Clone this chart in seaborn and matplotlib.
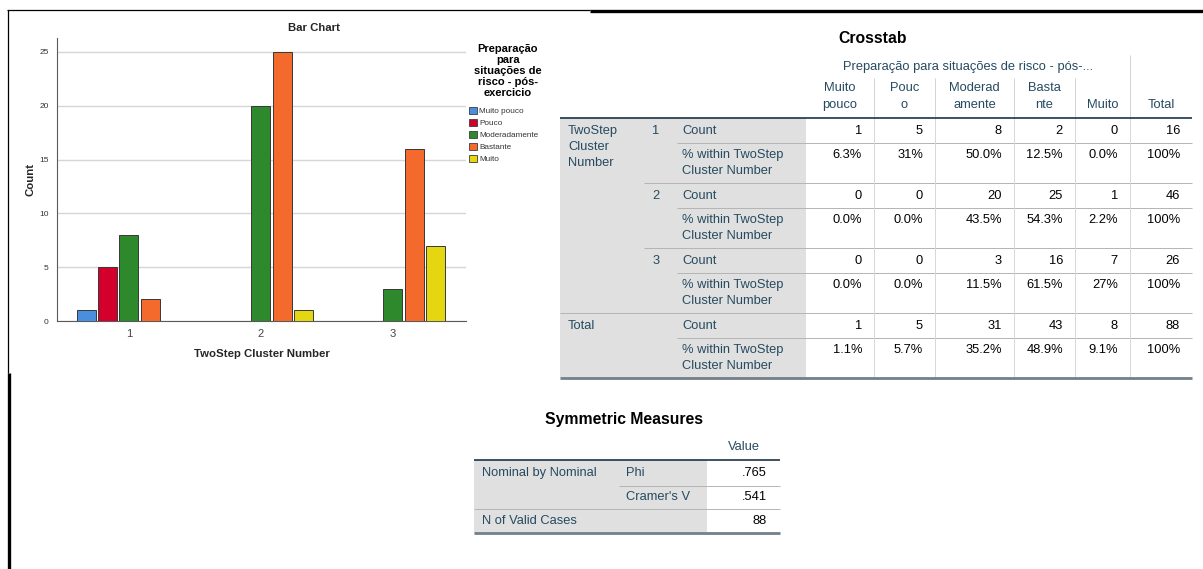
import numpy as np
import pandas as pd
import matplotlib
matplotlib.use("Agg")
import matplotlib.pyplot as plt
import seaborn as sns
from matplotlib.patches import Rectangle, Patch

# ---------------------------------------------------------------- data
clusters = ["1", "2", "3"]
levels = ["Muito pouco", "Pouco", "Moderadamente", "Bastante", "Muito"]
muito_pouco = [1, 0, 0]
pouco = [5, 0, 0]
moderadamente = [8, 20, 3]
bastante = [2, 25, 16]
muito = [0, 1, 7]

pct_cluster1 = ["6.3%", "31%", "50.0%", "12.5%", "0.0%", "100%"]
pct_cluster2 = ["0.0%", "0.0%", "43.5%", "54.3%", "2.2%", "100%"]
pct_cluster3 = ["0.0%", "0.0%", "11.5%", "61.5%", "27%", "100%"]
pct_total = ["1.1%", "5.7%", "35.2%", "48.9%", "9.1%", "100%"]

col_headers = [["Muito", "pouco"], ["Pouc", "o"], ["Moderad", "amente"],
               ["Basta", "nte"], ["Muito"], ["Total"]]

sym_rows = [("Nominal by Nominal", "Phi", ".765"),
            ("", "Cramer's V", ".541")]

y_ticks = [0, 5, 10, 15, 20, 25]

palette = {"Muito pouco": "#4a8fdd", "Pouco": "#d3002c",
           "Moderadamente": "#2d892b", "Bastante": "#f36a2c",
           "Muito": "#e4d712"}

# ---------------------------------------------------------------- style
sns.set_style("white")
plt.rcParams["font.family"] = ["Liberation Sans", "DejaVu Sans"]

W, H = 1203, 569
fig = plt.figure(figsize=(W / 100, H / 100), dpi=100)
fig.patch.set_facecolor("white")

# full-figure layer in pixel units for frames and tables
ov = fig.add_axes([0, 0, 1, 1], zorder=0)
ov.set_xlim(0, W)
ov.set_ylim(H, 0)
ov.axis("off")
ov.patch.set_alpha(0)

LBL = "#264a60"
VAL = "#010205"
FS = 9.3


def hline(y, x0, x1, color, lw):
    ov.plot([x0, x1], [y, y], color=color, lw=lw, solid_capstyle="butt")


def vline(x, y0, y1, color, lw):
    ov.plot([x, x], [y0, y1], color=color, lw=lw, solid_capstyle="butt")


def txt(x, y, s, color=VAL, ha="left", size=FS, weight="normal"):
    ov.text(x, y, s, color=color, ha=ha, va="center", fontsize=size,
            fontweight=weight)


# outer frame
hline(10, 7, 590, "black", 0.9)
hline(10.5, 590, W, "black", 2.4)
vline(8, 10, 373, "black", 0.9)
vline(9, 373, H, "black", 2.4)

# ---------------------------------------------------------------- bar chart
series = [muito_pouco, pouco, moderadamente, bastante, muito]
df = pd.DataFrame({
    "cluster": [c for s in series for c in clusters],
    "level": [lv for lv, s in zip(levels, series) for _ in s],
    "count": [v for s in series for v in s],
})

ax = fig.add_axes([57 / W, 1 - 321 / H, (466 - 57) / W, (321 - 38) / H],
                  zorder=2)
ax.patch.set_alpha(0)
sns.barplot(data=df, x="cluster", y="count", hue="level", order=clusters,
            hue_order=levels, palette=palette, saturation=1, width=0.8,
            gap=0.1, edgecolor="#383838", linewidth=0.7, legend=False,
            ax=ax, zorder=3)
for p in ax.patches:
    if p.get_height() == 0:
        p.set_visible(False)

ax.set_xlim(-0.545, 2.553)
ax.set_ylim(0, 26.3)
ax.set_yticks(y_ticks)
ax.yaxis.grid(True, color="#d6d6d6", lw=1.0, zorder=0)
ax.set_axisbelow(True)
for s in ["top", "right"]:
    ax.spines[s].set_visible(False)
for s in ["left", "bottom"]:
    ax.spines[s].set_color("#5a5a5a")
    ax.spines[s].set_linewidth(0.8)
ax.tick_params(axis="y", length=0, pad=6, labelsize=6, labelcolor="#333333")
ax.tick_params(axis="x", length=0, pad=6, labelsize=8, labelcolor="#444444")

ax.set_title("Bar Chart", fontsize=8.2, fontweight="bold", x=(314 - 57) / 409,
             pad=5)
ax.set_xlabel("TwoStep Cluster Number", fontsize=8.2, fontweight="bold")
ax.xaxis.set_label_coords(0.501, -0.10)
ax.set_ylabel("Count", fontsize=8.2, fontweight="bold")
ax.yaxis.set_label_coords(-0.052, 0.50)

# legend title and entries
for yy, line in zip([49, 60, 71, 82, 93],
                    ["Preparação", "para", "situações de", "risco - pós-",
                     "exercicio"]):
    txt(508, yy, line, color="black", ha="center", size=8.0, weight="bold")
handles = [Patch(facecolor=palette[lv], edgecolor="#3c3c3c", lw=0.6)
           for lv in levels]
leg = fig.legend(handles, levels, loc="upper left",
                 bbox_to_anchor=(469 / W, 1 - 107 / H), frameon=False,
                 fontsize=5.9, handlelength=1.0, handleheight=1.0,
                 handletextpad=0.25, labelspacing=0.42, borderpad=0,
                 borderaxespad=0)
for t in leg.get_texts():
    t.set_color("#333333")

# ---------------------------------------------------------------- crosstab
x_left, x_grey, x_right = 560, 806, 1192
col_edges = [806, 874, 935, 1014, 1075, 1130, 1192]

ov.add_patch(Rectangle((x_left, 118), x_grey - x_left, 378 - 118,
                       facecolor="#e0e0e0", edgecolor="none"))

txt(873, 38, "Crosstab", color="black", ha="center", size=11.3,
    weight="bold")
txt((col_edges[0] + col_edges[5]) / 2, 67,
    "Preparação para situações de risco - pós-...", color=LBL, ha="center")
for i, hdr in enumerate(col_headers):
    cx = (col_edges[i] + col_edges[i + 1]) / 2
    ys = [88, 105] if len(hdr) == 2 else [105]
    for yy, part in zip(ys, hdr):
        txt(cx, yy, part, color=LBL, ha="center")

# header separators
for x in col_edges[1:5]:
    vline(x, 78, 118, "#d2d2d2", 0.7)
vline(col_edges[5], 55, 118, "#d2d2d2", 0.7)

row_counts = [[s[k] for s in series] for k in range(len(clusters))]
total_counts = [sum(s) for s in series]
pct_rows = [pct_cluster1, pct_cluster2, pct_cluster3]

blocks = []
for k, c in enumerate(clusters):
    blocks.append((c, row_counts[k] + [sum(row_counts[k])], pct_rows[k]))
blocks.append(("Total", total_counts + [sum(total_counts)], pct_total))

for b, (name, counts, pcts) in enumerate(blocks):
    top = 119 + 65 * b
    y_count = top + 12
    y_pct = top + 36
    if name == "Total":
        txt(568, y_count, "Total", color=LBL)
    else:
        txt(656, y_count, name, color=LBL, ha="center")
    txt(682, y_count, "Count", color=LBL)
    txt(682, y_pct, "% within TwoStep", color=LBL)
    txt(682, y_pct + 16, "Cluster Number", color=LBL)
    for i in range(6):
        xr = col_edges[i + 1] - 12
        txt(xr, y_count, str(counts[i]), ha="right")
        txt(xr, y_pct, pcts[i], ha="right")
    hline(top + 24, 677, x_right, "#b4b4b4", 0.7)
    if b > 0:
        x0 = x_left if name == "Total" else 644
        hline(top - 1, x0, x_right, "#b4b4b4", 0.7)

for yy, part in zip([131, 147, 163], ["TwoStep", "Cluster", "Number"]):
    txt(568, yy, part, color=LBL)

for x in col_edges[1:6]:
    vline(x, 118, 378, "#d6d6d6", 0.7)
hline(118, x_left, x_right, "#1d3445", 1.2)
hline(378, x_left, x_right, "#737f89", 2.0)

# ---------------------------------------------------------------- symmetric measures
sx0, sx_mid, sx_grey, sx1 = 474, 619, 707, 780
ov.add_patch(Rectangle((sx0, 460), sx_grey - sx0, 533 - 460,
                       facecolor="#e0e0e0", edgecolor="none"))
txt(624, 419, "Symmetric Measures", color="black", ha="center", size=11.3,
    weight="bold")
txt((sx_grey + sx1) / 2, 447, "Value", color=LBL, ha="center")
for r, (a, b_, v) in enumerate(sym_rows):
    yy = 473 + 24 * r
    if a:
        txt(482, yy, a, color=LBL)
    txt(626, yy, b_, color=LBL)
    txt(767, yy, v, ha="right")
txt(482, 521, "N of Valid Cases", color=LBL)
txt(767, 521, str(sum(total_counts)), ha="right")
hline(486, sx_mid, sx1, "#b4b4b4", 0.7)
hline(509, sx0, sx1, "#b4b4b4", 0.7)
hline(460, sx0, sx1, "#1d3445", 1.2)
hline(533, sx0, sx1, "#737f89", 2.0)

fig.savefig("out.png", dpi=100)
